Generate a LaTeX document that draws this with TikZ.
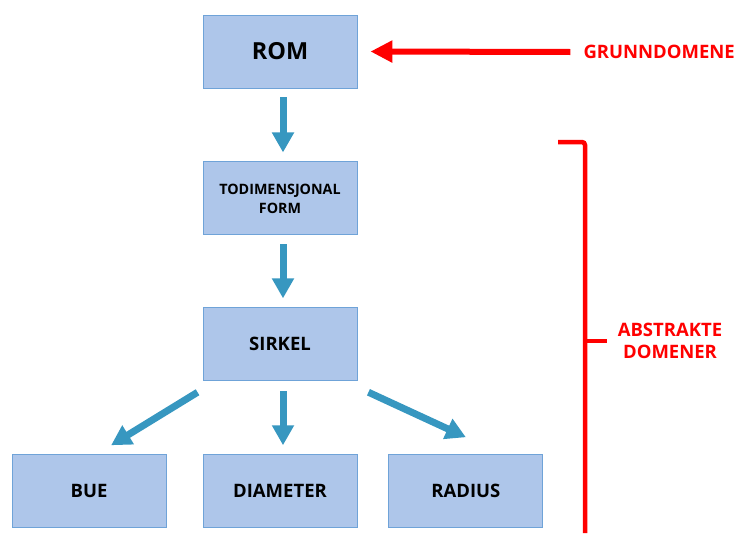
\documentclass[tikz,border=0pt]{standalone}
\usepackage{fontspec}
\setmainfont{Open Sans}
\usepackage{tikz}
\usetikzlibrary{
    arrows.meta,
    positioning
}
\definecolor{boxFill}{RGB}{174,198,234}
\definecolor{boxLine}{RGB}{111,163,216}
\definecolor{arrC}{RGB}{55,151,192}
\definecolor{redC}{RGB}{255,0,0}
\tikzset{
  block/.style  = {draw=boxLine, fill=boxFill, line width=0.9pt,
                   minimum width=154pt, minimum height=73pt,
                   align=center, font=\fontsize{18.5}{22}\selectfont\bfseries},
  arrb/.style   = {-{Triangle[length=20pt, width=21pt]}, arrC, line width=7pt},
  arrr/.style   = {-{Triangle[length=22pt, width=21pt]}, redC, line width=6pt},
  brk/.style    = {redC, line width=4.5pt},
  redtxt/.style = {redC, inner sep=0pt, align=center,
                   font=\fontsize{18.5}{22}\selectfont\bfseries}
}

\begin{document}
\begin{tikzpicture}[x=1pt, y=1pt]
  \useasboundingbox (0,0) rectangle (735,-533);

  %% ── Boxes ─────────────────────────────────────────────────────
  \node[block, font=\fontsize{23.5}{26}\selectfont\bfseries] (rom) at (280,-51.5) {ROM};
  \node[block, below=73pt of rom, font=\fontsize{14.3}{19}\selectfont\bfseries]
    (todim) {TODIMENSJONAL\\FORM};
  \node[block, below=72pt of todim] (sirkel)   {SIRKEL};
  \node[block, below=73pt of sirkel] (diameter) {DIAMETER};
  \node[block, left=36pt of diameter] (bue)     {BUE};
  \node[block, right=31pt of diameter] (radius) {RADIUS};

  %% ── Blue arrows ───────────────────────────────────────────────
  \draw[arrb] ([xshift=3pt, yshift=-9pt]rom.south)
    -- ([xshift=3pt, yshift=9pt]todim.north);
  \draw[arrb] ([xshift=3pt, yshift=-9pt]todim.south)
    -- ([xshift=3pt, yshift=9pt]sirkel.north);
  \draw[arrb] ([xshift=3pt, yshift=-10pt]sirkel.south)
    -- ([xshift=3pt, yshift=9pt]diameter.north);
  % SIRKEL -> BUE / RADIUS
  \draw[arrb] ([xshift=-5pt, yshift=-11pt]sirkel.south west)
    -- ([xshift=22pt, yshift=9pt]bue.north);
  \draw[arrb] ([xshift=11pt, yshift=-11pt]sirkel.south east)
    -- ([yshift=17pt]radius.north);

  %% ── Red labels ────────────────────────────────────────────────
  \node[redtxt, anchor=east] (grunn) at (735,-52) {GRUNNDOMENE};
  \draw[arrr] ([xshift=-13pt]grunn.west) -- ([xshift=13pt]rom.east);

  % bracket for the abstract domains
  \coordinate (brtop) at (585,-142);
  \coordinate (brmid) at (585,-341);
  \draw[brk, rounded corners=3pt]
    ([xshift=-27pt]brtop) -- (brtop) -- (585,-533);
  \draw[brk] (brmid) -- ++(22,0);
  \node[redtxt] (abstr) at (670,-341) {ABSTRAKTE\\DOMENER};

\end{tikzpicture}
\end{document}
